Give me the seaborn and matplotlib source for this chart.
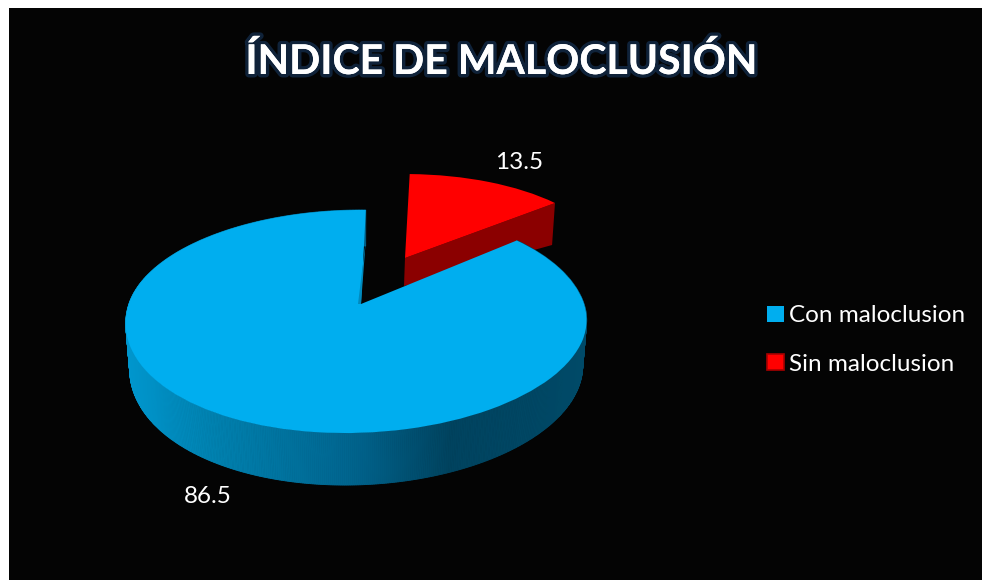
import numpy as np
import matplotlib
matplotlib.use("Agg")
import matplotlib.pyplot as plt
import matplotlib.patheffects as pe
from matplotlib.patches import Patch, Rectangle
from matplotlib.transforms import Transform
import seaborn as sns

# ---- data ----
categories = ["Con maloclusion", "Sin maloclusion"]
values = [86.5, 13.5]
value_labels = ["86.5", "13.5"]
title = "ÍNDICE DE MALOCLUSIÓN"

# ---- styles ----
palette = sns.color_palette(["#00AEEF", "#FF0000"])
RED_SIDE = "#8B0000"
FONT = ["Lato", "DejaVu Sans"]

sns.set_theme(style="white")
plt.rcParams["font.family"] = FONT


class Perspective(Transform):
    """Maps a unit-circle pie into tilted pixel space."""
    input_dims = output_dims = 2

    def __init__(self, cx, cy, sx, sy, p, k=0.0, dx=0.0, dy=0.0, dk=0.0, skew=0.0):
        super().__init__()
        self.v = (cx, cy, sx, sy, p, k, dx, dy, dk, skew)

    def transform_non_affine(self, xy):
        cx, cy, sx, sy, p, k, dx, dy, dk, skew = self.v
        xy = np.asarray(xy, float)
        x, y = xy[:, 0], xy[:, 1]
        w = 1 + p * y
        X = cx + sx * x / w - k * x * x - dx * x - skew * np.minimum(y, 0) ** 2
        Y = cy - sy * y / w + dy - dk * y
        return np.column_stack([X, Y])

    transform = transform_non_affine


fig = plt.figure(figsize=(9.82, 5.8), dpi=100, facecolor="white")
ax = fig.add_axes([0, 0, 1, 1])

wedges, _ = ax.pie(values, colors=palette, startangle=88.6, radius=1.0,
                   wedgeprops=dict(linewidth=0))
ax.set_aspect("auto")
ax.set(xlim=(0, 982), ylim=(580, 0))
ax.set_axis_off()
ax.add_patch(Rectangle((9, 8), 973, 572, facecolor="#040404", edgecolor="none", zorder=0))

blue_top = Perspective(361, 304, 227.6, 108.8, 0.157, k=4.5, skew=16)
blue_base = Perspective(361, 304, 227.6, 108.8, 0.157, k=4.5, dx=4, dy=44, dk=8, skew=16)
red_top = Perspective(405, 258, 202.6, 88.5, 0.054)
red_base = Perspective(404, 286, 200, 66, 0.054)


def rim(theta):
    t = np.deg2rad(theta)
    return np.column_stack([np.cos(t), np.sin(t)])


# red wall: radial face at the slice's end that borders the blue slice
e = rim(wedges[1].theta1)
c = np.zeros((1, 2))
wall = np.vstack([red_top.transform(c), red_top.transform(e),
                  red_base.transform(e), red_base.transform(c)])
ax.fill(wall[:, 0], wall[:, 1], color=RED_SIDE, lw=0, zorder=1)
wedges[1].set_transform(red_top + ax.transData)
wedges[1].set_zorder(2)

# blue outer wall with a horizontal gradient
stops_x = [130, 220, 350, 450, 585]
stops_r = [0, 0, 0, 0, 0]
stops_g = [150, 128, 101, 67, 74]
stops_b = [205, 174, 143, 95, 104]
th = np.linspace(wedges[0].theta1, wedges[0].theta2, 721)
top_pts, base_pts = blue_top.transform(rim(th)), blue_base.transform(rim(th))
for i in range(len(th) - 1):
    q = np.vstack([top_pts[i], top_pts[i + 1], base_pts[i + 1], base_pts[i]])
    xm = q[:, 0].mean()
    col = (np.interp(xm, stops_x, stops_r) / 255,
           np.interp(xm, stops_x, stops_g) / 255,
           np.interp(xm, stops_x, stops_b) / 255)
    ax.fill(q[:, 0], q[:, 1], color=col, lw=0.6, zorder=3)

wedges[0].set_transform(blue_top + ax.transData)
wedges[0].set_zorder(4)

# thin inner wall visible along the blue slice's first radial edge
s = rim(wedges[0].theta1)
a0 = blue_top.transform(c)[0]
a1 = blue_top.transform(s)[0]
ax.fill([a0[0], a1[0], a0[0] - 3], [a0[1], a1[1] + 30, a0[1]],
        color="#0089BC", lw=0, zorder=5)

# value labels
ax.text(208, 496.5, value_labels[0], color="white", fontsize=17.5, ha="center", va="center", zorder=6)
ax.text(519.5, 162.5, value_labels[1], color="white", fontsize=17.5, ha="center", va="center", zorder=6)

# title
ax.text(501, 62, title, color="white", fontsize=29.5, fontweight="bold", ha="center", va="center",
        zorder=6, path_effects=[pe.withStroke(linewidth=5, foreground="#17375E", alpha=0.6),
                                pe.Normal()])

# legend
handles = [Patch(facecolor=palette[0], edgecolor="none"),
           Patch(facecolor=palette[1], edgecolor="#A80000", linewidth=1.2)]
leg = ax.legend(handles, categories, loc="center left", bbox_to_anchor=(760, 340),
                bbox_transform=ax.transData, frameon=False, fontsize=17.5,
                labelcolor="white", handlelength=0.68, handleheight=0.68,
                handletextpad=0.2, labelspacing=1.12, borderpad=0, borderaxespad=0.3)
leg.set_zorder(6)

fig.savefig("out.png", dpi=100, facecolor=fig.get_facecolor())
